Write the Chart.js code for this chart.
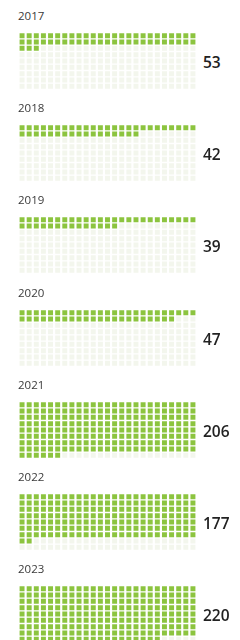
<!DOCTYPE html>
<html>
<head>
<meta charset="utf-8">
<script src="https://cdn.jsdelivr.net/npm/chart.js@4/dist/chart.umd.min.js"></script>
<style>
  body { margin: 0; background: #fff; width: 240px; height: 640px; overflow: hidden; font-family: "Open Sans", sans-serif; }
  .block { position: relative; height: 92.2px; }
  .year { position: absolute; left: 18px; top: 9px; font-size: 11.5px; color: #3a3a3a; line-height: 14px; }
  .value { position: absolute; left: 203px; top: 52px; font-size: 15.5px; font-weight: 600; color: #222; line-height: 20px; }
  canvas { position: absolute; left: 0; top: 29px; }
</style>
</head>
<body>
<div id="wrap"></div>
<script>
// data
const years = ['2017', '2018', '2019', '2020', '2021', '2022', '2023'];
const counts = [53, 42, 39, 47, 206, 177, 220];

// waffle grid
const cols = 25;
const rows = 9;
const fillColor = '#8cc43f';
const emptyColor = '#f3f6ed';

function cells(value, filled) {
    const pts = [];
    for (let i = 0; i < cols * rows; i++) {
        if ((i < value) === filled) {
            pts.push({ x: i % cols, y: Math.floor(i / cols) });
        }
    }
    return pts;
}

const wrap = document.getElementById('wrap');

years.forEach((year, k) => {
    const block = document.createElement('div');
    block.className = 'block';
    block.innerHTML = '<div class="year">' + year + '</div>' +
        '<div class="value">' + counts[k] + '</div>';
    const canvas = document.createElement('canvas');
    canvas.width = 240;
    canvas.height = 64;
    block.appendChild(canvas);
    wrap.appendChild(block);

    new Chart(canvas, {
        type: 'scatter',
        data: {
            datasets: [
                { data: cells(counts[k], true), backgroundColor: fillColor },
                { data: cells(counts[k], false), backgroundColor: emptyColor }
            ]
        },
        options: {
            responsive: false,
            animation: false,
            devicePixelRatio: 1,
            layout: { padding: { left: 18.5, right: 43.5, top: 0, bottom: 0 } },
            elements: {
                point: { pointStyle: 'rect', radius: 3.5, borderWidth: 0, hoverRadius: 3.5 }
            },
            scales: {
                x: { type: 'linear', min: -0.5, max: cols - 0.5, display: false },
                y: { type: 'linear', min: -0.5, max: rows - 0.5, reverse: true, display: false }
            },
            plugins: { legend: { display: false }, tooltip: { enabled: false } }
        }
    });
});
</script>
</body>
</html>
